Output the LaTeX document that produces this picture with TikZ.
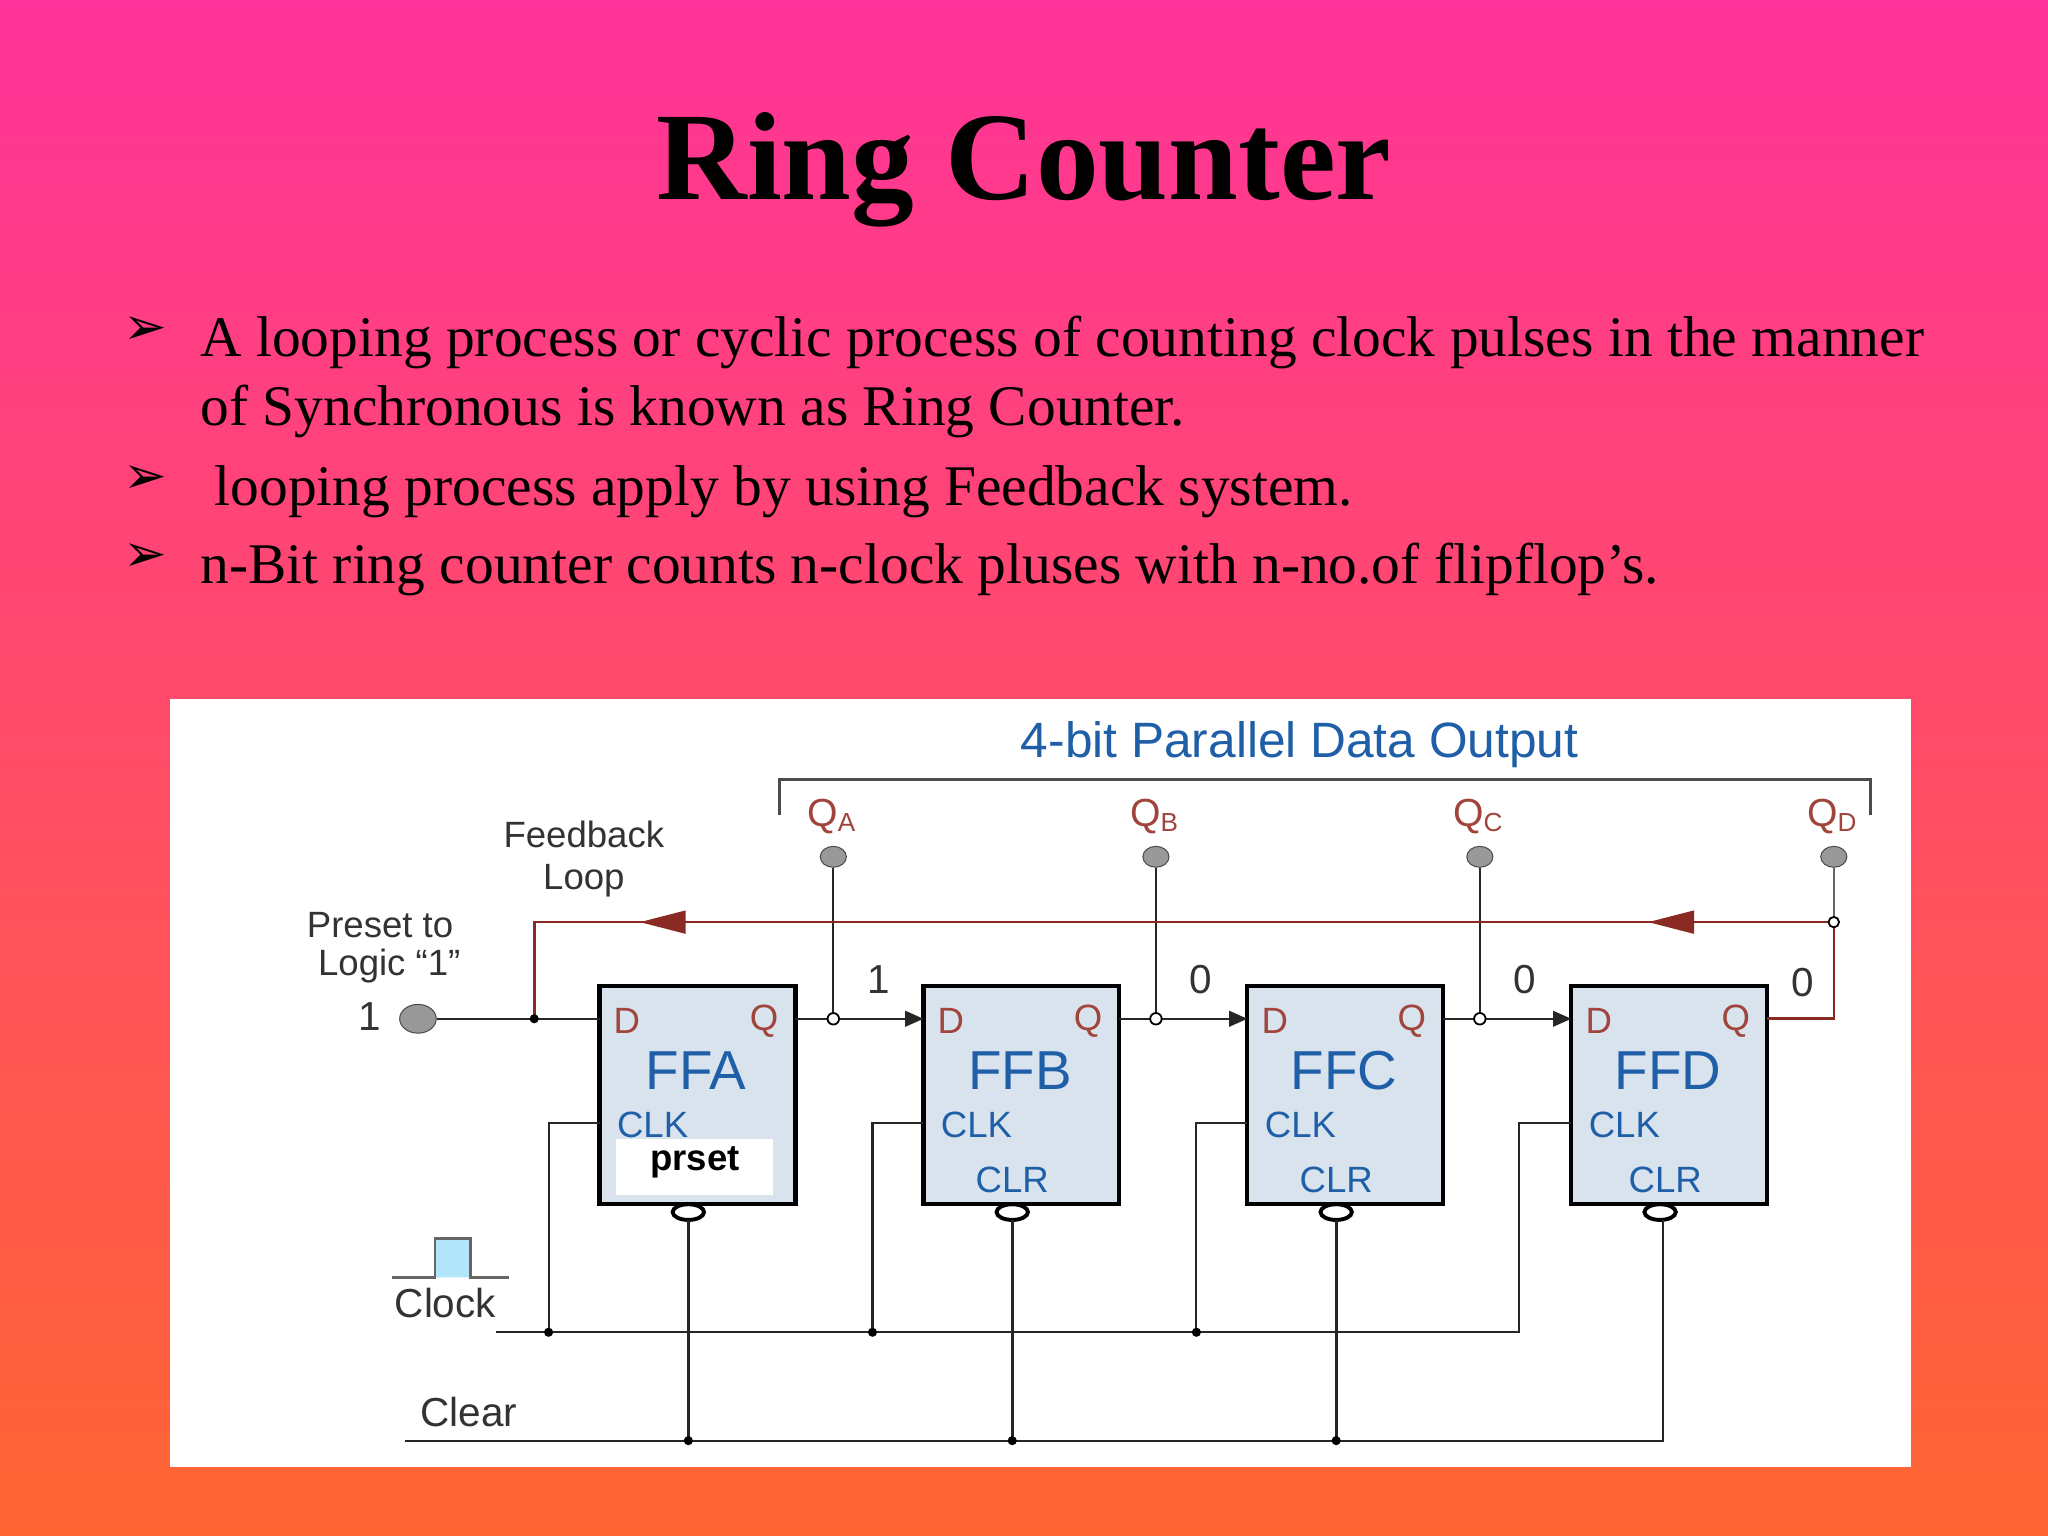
\documentclass[tikz,border=0pt]{standalone}
\usepackage{fontspec}
\setmainfont{Liberation Serif}
\setsansfont{Liberation Sans}
\newfontfamily\dv{DejaVu Sans}
\usetikzlibrary{arrows.meta,shapes.geometric}
\definecolor{bgtop}{HTML}{FF3399}
\definecolor{bgbot}{HTML}{FF6633}
\definecolor{ffill}{HTML}{D9E3EE}
\definecolor{dtxt}{HTML}{1F5FA8}
\definecolor{qred}{HTML}{A0443C}
\definecolor{fb}{HTML}{8B2A22}
\tikzset{
 ff/.style={draw=black,line width=1.6pt,fill=ffill},
 lab/.style={font=\sffamily\fontsize{14}{14}\selectfont,text=dtxt,inner sep=0},
 rl/.style={font=\sffamily\fontsize{14}{14}\selectfont,text=qred,inner sep=0},
 bl/.style={font=\sffamily\fontsize{15.5}{15.5}\selectfont,text=black!80,inner sep=0},
 sl/.style={font=\sffamily\fontsize{14}{14}\selectfont,text=black!80,inner sep=0},
 wire/.style={line width=0.8pt,black!85},
 pin/.style={ellipse,draw=black!70,fill=black!40,minimum width=10pt,minimum height=8pt,inner sep=0},
 dot/.style={circle,fill=black,inner sep=0,minimum size=3.5pt},
 bul/.style={font=\dv\fontsize{20}{20}\selectfont,inner sep=0},
 body/.style={font=\fontsize{22}{26}\selectfont,anchor=base west,inner sep=0},
}
\begin{document}
\begin{tikzpicture}[x=0.5pt,y=-0.5pt]
\shade[top color=bgtop,bottom color=bgbot] (0,0) rectangle (1568,1176);
\useasboundingbox (0,0) rectangle (1568,1176);
\node[font=\bfseries\fontsize{48}{48}\selectfont,inner sep=0] (title) at (784,130) {Ring Counter};
\node[bul] (b1) at (111,253) {➢};
\node[bul] (b2) at (111,367) {➢};
\node[bul] (b3) at (111,427) {➢};
\node[body] (t1) at (153,273) {A looping process or cyclic process of counting clock pulses in the manner};
\node[body] (t1b) at (153,326) {of Synchronous is known as Ring Counter.};
\node[body] (t2) at (153,387) {\ looping process apply by using Feedback system.};
\node[body] (t3) at (153,447) {n-Bit ring counter counts n-clock pluses with n-no.of flipflop’s.};
\fill[white] (130,535) rectangle (1463,1123);
% flip-flops
\foreach \n/\x/\lbl in {A/459/FFA,B/707/FFB,C/955/FFC,D/1203/FFD}{
  \draw[ff] (\x,755) rectangle ++(150,167);
  \node[rl] at (\x+21,782) {D};
  \node[rl] at (\x+126,782) {Q};
  \node[lab,font=\sffamily\fontsize{21}{21}\selectfont] at (\x+74,820) {\lbl};
  \node[lab,anchor=west] at (\x+13,861) {CLK};
  \draw[black,line width=1.5pt] (\x+68,928) ellipse (6pt and 3pt);
}
\node[lab] at (775,903) {CLR};
\node[lab] at (1023,903) {CLR};
\node[lab] at (1275,903) {CLR};
\fill[white] (472,872) rectangle (592,915);
\node[font=\sffamily\bfseries\fontsize{14}{14}\selectfont,inner sep=0] (ps) at (532,890) {prset};
% bracket and title
\node[lab,font=\sffamily\fontsize{19}{19}\selectfont] (pdo) at (995,570) {4-bit Parallel Data Output};
\draw[black!70,line width=1pt] (597,624) -- (597,597) -- (1432,597) -- (1432,624);
% Q pins
\foreach \x/\s [count=\i] in {638/A,885/B,1133/C,1404/D}{
  \node[pin] (p\i) at (\x,656) {};
  \node[rl,font=\sffamily\fontsize{15}{15}\selectfont] at (\x-1,625) {Q\textsubscript{\fontsize{10}{10}\selectfont\s}};
}
% data chain
\draw[wire] (p1) -- (638,780);
\draw[wire] (p2) -- (885,780);
\draw[wire] (p3) -- (1133,780);
\draw[wire,-{Triangle[length=7pt,width=6pt]}] (609,780) -- (707,780);
\draw[wire,-{Triangle[length=7pt,width=6pt]}] (857,780) -- (955,780);
\draw[wire,-{Triangle[length=7pt,width=6pt]}] (1105,780) -- (1203,780);
\foreach \x in {638,885,1133}{\draw[black,fill=white,line width=0.7pt] (\x,780) circle (2.2pt);}
\node[bl] at (673,750) {1};
\node[bl] at (919,750) {0};
\node[bl] at (1167,750) {0};
\node[bl] at (1380,752) {0};
% feedback
\draw[fb,line width=1pt] (1353,780) -- (1404,780) -- (1404,706) -- (409,706) -- (409,780);
\draw[black!60,line width=0.8pt] (p4) -- (1404,706);
\fill[fb] (490,706) -- (525,697) -- (525,715) -- cycle;
\fill[fb] (1262,706) -- (1297,697) -- (1297,715) -- cycle;
\draw[black,fill=white,line width=0.7pt] (1404,706) circle (2pt);
\node[sl] at (447,639) {Feedback};
\node[sl] at (447,674) {Loop};
\node[sl] at (291,708) {Preset to};
\node[sl] at (298,740) {Logic ``1''};
% input
\node[pin,minimum width=14pt,minimum height=11pt] (in) at (320,780) {};
\node[bl] at (283,778) {1};
\draw[wire] (in) -- (459,780);
\node[dot] at (409,780) {};
% clock
\draw[black!60,line width=1pt,fill=cyan!30] (300,978) -- (333,978) -- (333,948) -- (360,948) -- (360,978) -- (390,978);
\node[bl] at (341,998) {Clock};
\draw[wire] (380,1020) -- (1163,1020) -- (1163,860) -- (1203,860);
\foreach \x/\e in {420/459,668/707,916/955}{
  \draw[wire] (\x,1020) -- (\x,860) -- (\e,860);
  \node[dot] at (\x,1020) {};
}
% clear
\node[bl] at (359,1081) {Clear};
\draw[wire] (310,1103) -- (1273,1103) -- (1273,934);
\foreach \x in {527,775,1023}{
  \draw[wire,line width=1.2pt] (\x,934) -- (\x,1103);
  \node[dot] at (\x,1103) {};
}
\end{tikzpicture}
\end{document}
